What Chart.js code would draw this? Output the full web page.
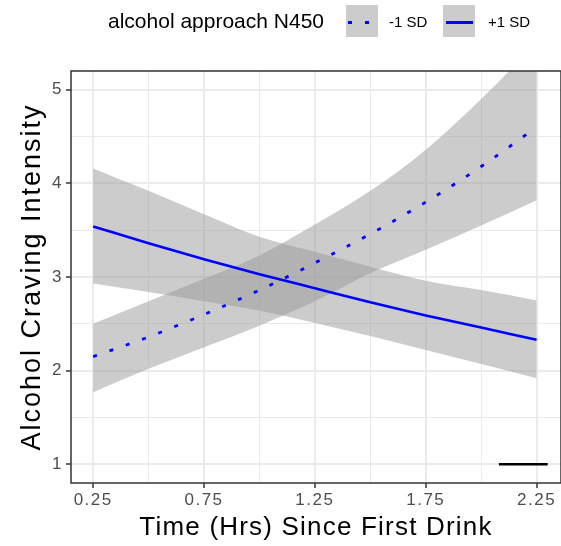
<!DOCTYPE html>
<html>
<head>
<meta charset="utf-8">
<script src="https://cdn.jsdelivr.net/npm/chart.js@4/dist/chart.umd.min.js"></script>
<style>
  body { margin: 0; background: #fff; font-family: "Liberation Sans", Arial, sans-serif; }
  #wrap { position: relative; width: 561px; height: 546px; }
  #legend { position: absolute; left: 0; top: 0; width: 561px; height: 50px; }
  #legend .txt { position: absolute; white-space: nowrap; color: #000; }
  #legend .key { position: absolute; top: 5px; width: 32px; height: 32px; background: #cccccc; }
  #legend .key .ln { position: absolute; left: 2px; top: 15.5px; width: 28px; height: 3px; }
</style>
</head>
<body>
<div id="wrap">
  <canvas id="chart"></canvas>
  <div id="legend">
    <div class="txt" style="left:108px; top:10px; font-size:21px; line-height:21px;">alcohol approach N450</div>
    <div class="key" style="left:346px;"><div class="ln" style="background: repeating-linear-gradient(90deg, #0000ff 0 4px, transparent 4px 17.3px);"></div></div>
    <div class="txt" style="left:389px; top:14px; font-size:15px; line-height:15px;">-1 SD</div>
    <div class="key" style="left:443px;"><div class="ln" style="left:2.5px; width:27px; background:#0000ff;"></div></div>
    <div class="txt" style="left:488px; top:14px; font-size:15px; line-height:15px;">+1 SD</div>
  </div>
</div>
<script>
// values
const timeHrs = [0.25, 0.5, 0.75, 1.0, 1.25, 1.5, 1.75, 2.0, 2.25];

const lowSdFit   = [2.15, 2.36, 2.60, 2.86, 3.15, 3.46, 3.80, 4.18, 4.60];
const lowSdUpper = [2.50, 2.74, 2.98, 3.23, 3.56, 3.92, 4.36, 4.90, 5.50];
const lowSdLower = [1.77, 2.02, 2.25, 2.48, 2.74, 3.04, 3.29, 3.55, 3.82];

const highSdFit   = [3.54, 3.36, 3.19, 3.03, 2.88, 2.73, 2.59, 2.46, 2.33];
const highSdUpper = [4.16, 3.92, 3.67, 3.43, 3.27, 3.11, 2.96, 2.86, 2.75];
const highSdLower = [2.93, 2.84, 2.74, 2.64, 2.51, 2.37, 2.22, 2.07, 1.92];

// short black segment near the bottom right
const segX = [2.08, 2.30];
const segY = [1, 1];

const xMajor = [0.25, 0.75, 1.25, 1.75, 2.25];
const xMinor = [0.5, 1.0, 1.5, 2.0];
const xTickLabels = ["0.25", "0.75", "1.25", "1.75", "2.25"];
const yMajor = [1, 2, 3, 4, 5];
const yMinor = [1.5, 2.5, 3.5, 4.5];
const yTickLabels = ["1", "2", "3", "4", "5"];

const pts = (xs, ys) => xs.map((x, i) => ({ x: x, y: ys[i] }));
const ribbon = "rgba(153,153,153,0.5)";
const fontFam = "'Liberation Sans', Arial, sans-serif";

// the original axis text is set wide; spacing depends on the font size
function spacingFor(font) {
  if (font.indexOf("26px") >= 0) return "1.2px";
  if (font.indexOf("27px") >= 0) return "2px";
  return "1.5px";
}
const spacing = {
  id: "spacing",
  beforeDraw(chart) {
    const ctx = chart.ctx;
    if (ctx._wideText) return;
    const orig = ctx.fillText;
    ctx.fillText = function (t, x, y, m) {
      this.letterSpacing = spacingFor(this.font);
      return m === undefined ? orig.call(this, t, x, y) : orig.call(this, t, x, y, m);
    };
    ctx._wideText = true;
  }
};

// theme_bw panel border
const panelBorder = {
  id: "panelBorder",
  afterDraw(chart) {
    const { ctx, chartArea: a } = chart;
    ctx.save();
    ctx.strokeStyle = "#333333";
    ctx.lineWidth = 1.5;
    ctx.strokeRect(a.left, a.top, a.right - a.left, a.bottom - a.top);
    ctx.restore();
  }
};

function gridOpts(major) {
  return {
    color: "#ebebeb",
    lineWidth: (c) => (c.tick && major.includes(c.tick.value) ? 2 : 1),
    drawTicks: true,
    tickLength: 5,
    tickWidth: 1.5,
    tickColor: (c) => (c.tick && major.includes(c.tick.value) ? "#333333" : "rgba(0,0,0,0)")
  };
}

new Chart(document.getElementById("chart"), {
  type: "line",
  data: {
    datasets: [
      { data: pts(timeHrs, lowSdUpper), fill: "+1", backgroundColor: ribbon, borderWidth: 0, pointRadius: 0, order: 5 },
      { data: pts(timeHrs, lowSdLower), fill: false, borderWidth: 0, pointRadius: 0, order: 5 },
      { data: pts(timeHrs, highSdUpper), fill: "+1", backgroundColor: ribbon, borderWidth: 0, pointRadius: 0, order: 4 },
      { data: pts(timeHrs, highSdLower), fill: false, borderWidth: 0, pointRadius: 0, order: 4 },
      {
        data: pts(timeHrs, lowSdFit), borderColor: "#0000ff", borderWidth: 2.8,
        borderDash: [4, 13.3], borderCapStyle: "butt", pointRadius: 0, fill: false, order: 1
      },
      { data: pts(timeHrs, highSdFit), borderColor: "#0000ff", borderWidth: 2.6, pointRadius: 0, fill: false, order: 1 },
      { data: pts(segX, segY), borderColor: "#000000", borderWidth: 2.5, pointRadius: 0, fill: false, order: 0 }
    ]
  },
  options: {
    responsive: true,
    maintainAspectRatio: false,
    animation: false,
    cubicInterpolationMode: "monotone",
    layout: { padding: { top: 71, right: 0, bottom: 0, left: 0 } },
    plugins: { legend: { display: false }, tooltip: { enabled: false } },
    scales: {
      x: {
        type: "linear",
        min: 0.15,
        max: 2.36,
        afterBuildTicks: (axis) => {
          axis.ticks = [...xMajor, ...xMinor].sort((a, b) => a - b).map((v) => ({ value: v }));
        },
        afterFit: (axis) => { axis.height = 63; },
        grid: gridOpts(xMajor),
        border: { display: false },
        ticks: {
          autoSkip: false,
          maxRotation: 0,
          padding: 2,
          color: "#4d4d4d",
          font: { family: fontFam, size: 17 },
          callback: (v) => {
            const i = xMajor.indexOf(v);
            return i >= 0 ? xTickLabels[i] : "";
          }
        },
        title: {
          display: true,
          text: "Time (Hrs) Since First Drink",
          color: "#000",
          font: { family: fontFam, size: 26 },
          padding: { top: 0, bottom: 3 }
        }
      },
      y: {
        type: "linear",
        min: 0.8,
        max: 5.2,
        afterBuildTicks: (axis) => {
          axis.ticks = [...yMajor, ...yMinor].sort((a, b) => a - b).map((v) => ({ value: v }));
        },
        afterFit: (axis) => { axis.width = 71; },
        grid: gridOpts(yMajor),
        border: { display: false },
        ticks: {
          autoSkip: false,
          padding: 3,
          color: "#4d4d4d",
          font: { family: fontFam, size: 17 },
          callback: (v) => {
            const i = yMajor.indexOf(v);
            return i >= 0 ? yTickLabels[i] : "";
          }
        },
        title: {
          display: true,
          text: "Alcohol Craving Intensity",
          color: "#000",
          font: { family: fontFam, size: 27 },
          padding: { top: 16, bottom: 0 }
        }
      }
    }
  },
  plugins: [spacing, panelBorder]
});
</script>
</body>
</html>
